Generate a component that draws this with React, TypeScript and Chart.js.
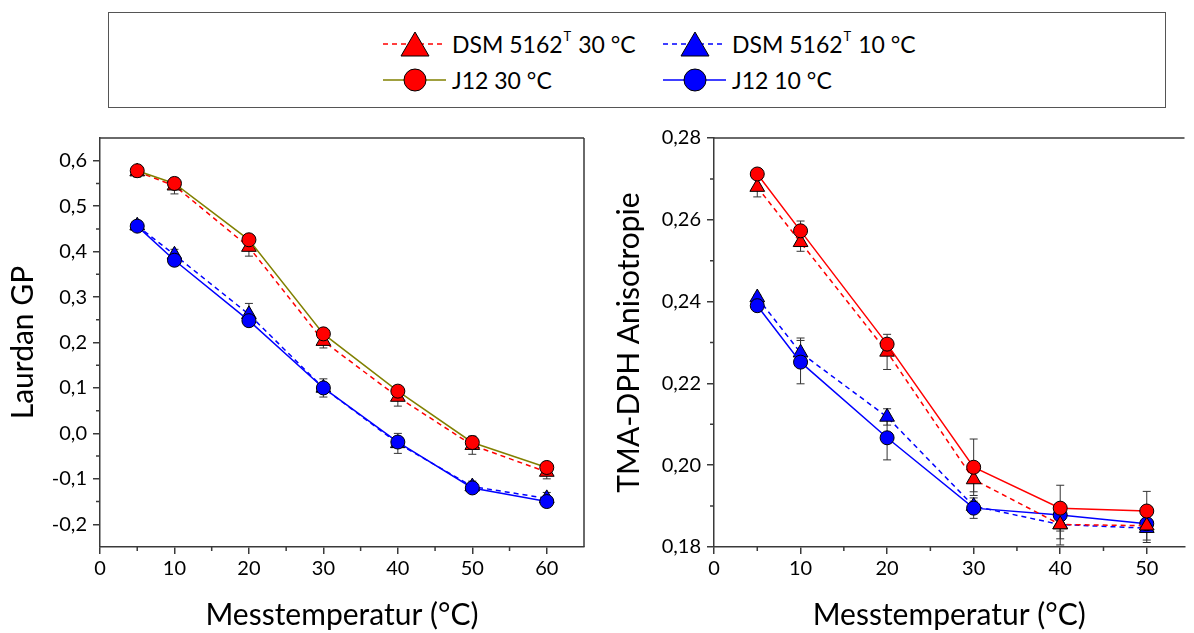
import React, { useEffect, useRef } from "react";
import { Chart, registerables } from "chart.js";
Chart.register(...registerables);

// ---------- data ----------
const gpTemps = [5, 10, 20, 30, 40, 50, 60];
const gpDsm30 = [0.576, 0.545, 0.41, 0.203, 0.08, -0.026, -0.085];
const gpJ12_30 = [0.578, 0.55, 0.426, 0.219, 0.093, -0.02, -0.075];
const gpDsm10 = [0.457, 0.393, 0.262, 0.1, -0.022, -0.117, -0.143];
const gpJ12_10 = [0.456, 0.381, 0.248, 0.1, -0.019, -0.12, -0.15];
const gpErrDsm30 = [0.012, 0.018, 0.02, 0.015, 0.02, 0.02, 0.015];
const gpErrJ12_30 = [0.008, 0.008, 0.01, 0.008, 0.012, 0.012, 0.01];
const gpErrDsm10 = [0.01, 0.012, 0.024, 0.02, 0.022, 0.012, 0.013];
const gpErrJ12_10 = [0.008, 0.008, 0.01, 0.008, 0.01, 0.008, 0.008];

const anTemps = [5, 10, 20, 30, 40, 50];
const anDsm30 = [0.268, 0.2545, 0.2277, 0.1965, 0.1855, 0.1852];
const anJ12_30 = [0.2712, 0.2573, 0.2296, 0.1995, 0.1895, 0.1888];
const anDsm10 = [0.241, 0.2275, 0.2118, 0.19, 0.1855, 0.1846];
const anJ12_10 = [0.239, 0.2252, 0.2067, 0.1895, 0.1878, 0.1857];
const anErrDsm30 = [0.0024, 0.0022, 0.0043, 0.003, 0.0035, 0.0035];
const anErrJ12_30 = [0.0006, 0.0024, 0.001, 0.0069, 0.0056, 0.0048];
const anErrDsm10 = [0.0006, 0.0036, 0.002, 0.0012, 0.005, 0.0035];
const anErrJ12_10 = [0.0005, 0.0053, 0.0054, 0.0025, 0.001, 0.001];

const gpXTicks = [0, 10, 20, 30, 40, 50, 60];
const gpYTicks = [-0.2, -0.1, 0, 0.1, 0.2, 0.3, 0.4, 0.5, 0.6];
const gpXMinor = [5, 15, 25, 35, 45, 55];
const gpYMinor = [-0.15, -0.05, 0.05, 0.15, 0.25, 0.35, 0.45, 0.55];
const anXTicks = [0, 10, 20, 30, 40, 50];
const anYTicks = [0.18, 0.2, 0.22, 0.24, 0.26, 0.28];
const anXMinor = [5, 15, 25, 35, 45];
const anYMinor = [0.19, 0.21, 0.23, 0.25, 0.27];

const labelDsm = "DSM 5162";
const labelJ12_30 = "J12 30 °C";
const labelJ12_10 = "J12 10 °C";
const xTitle = "Messtemperatur (°C)";
const gpTitle = "Laurdan GP";
const anTitle = "TMA-DPH Anisotropie";

// ---------- styling ----------
const RED = "#ff0000";
const BLUE = "#0000ff";
const OLIVE = "#808000";
const AXIS = "#3a3a3a";
const FONT = "Lato, 'Noto Sans', sans-serif";
const DASH = [5, 4];

const pts = (xs: number[], ys: number[]) => xs.map((x, i) => ({ x, y: ys[i] }));

function series(xs: number[], ys: number[], errs: number[], color: string, lineColor: string, tri: boolean, order: number) {
  return {
    data: pts(xs, ys),
    errors: errs,
    borderColor: lineColor,
    borderWidth: 1.5,
    borderDash: tri ? DASH : [],
    pointStyle: tri ? "triangle" : "circle",
    pointRadius: tri ? 8.5 : 7,
    pointBackgroundColor: color,
    pointBorderColor: "#000",
    pointBorderWidth: 1,
    tension: 0,
    order,
  };
}

const framePlugin = {
  id: "frame",
  beforeDatasetsDraw(chart: any) {
    const { ctx, scales } = chart;
    const y = scales.y;
    ctx.save();
    ctx.strokeStyle = "#333";
    ctx.lineWidth = 1;
    chart.data.datasets.forEach((ds: any, di: number) => {
      if (!ds.errors) return;
      const meta = chart.getDatasetMeta(di);
      meta.data.forEach((p: any, i: number) => {
        const v = ds.data[i].y;
        const e = ds.errors[i];
        const y1 = y.getPixelForValue(v + e);
        const y2 = y.getPixelForValue(v - e);
        ctx.beginPath();
        ctx.moveTo(p.x, y1);
        ctx.lineTo(p.x, y2);
        ctx.moveTo(p.x - 4, y1);
        ctx.lineTo(p.x + 4, y1);
        ctx.moveTo(p.x - 4, y2);
        ctx.lineTo(p.x + 4, y2);
        ctx.stroke();
      });
    });
    ctx.restore();
  },
  afterDraw(chart: any) {
    const o = chart.options.plugins.frame || {};
    const { ctx, chartArea: a, scales } = chart;
    ctx.save();
    ctx.strokeStyle = AXIS;
    ctx.lineWidth = 1.5;
    ctx.beginPath();
    ctx.moveTo(a.left, a.top);
    ctx.lineTo(a.right, a.top);
    if (o.right) {
      ctx.moveTo(a.right, a.top);
      ctx.lineTo(a.right, a.bottom);
    }
    (o.xMinor || []).forEach((v: number) => {
      const px = scales.x.getPixelForValue(v);
      ctx.moveTo(px, a.bottom);
      ctx.lineTo(px, a.bottom + 4);
    });
    (o.yMinor || []).forEach((v: number) => {
      const py = scales.y.getPixelForValue(v);
      ctx.moveTo(a.left - 4, py);
      ctx.lineTo(a.left, py);
    });
    ctx.stroke();
    ctx.restore();
  },
};

function makeConfig(opts: any) {
  const tickFont = { family: FONT, size: 20 };
  const titleFont = { family: FONT, size: 30 };
  return {
    type: "line",
    data: { datasets: opts.datasets },
    plugins: [framePlugin],
    options: {
      animation: false,
      responsive: false,
      maintainAspectRatio: false,
      layout: { padding: { left: 0, top: 16, right: opts.padRight, bottom: 0 } },
      plugins: {
        legend: { display: false },
        tooltip: { enabled: false },
        frame: { right: opts.right, xMinor: opts.xMinor, yMinor: opts.yMinor },
      },
      scales: {
        x: {
          type: "linear",
          min: 0,
          max: opts.xMax,
          afterBuildTicks: (s: any) => {
            s.ticks = opts.xTicks.map((v: number) => ({ value: v }));
          },
          afterFit: (s: any) => {
            s.height = 86;
          },
          ticks: { color: "#000", font: tickFont, padding: 3, maxRotation: 0, autoSkip: false },
          grid: { drawOnChartArea: false, drawTicks: true, tickLength: 7, color: AXIS, lineWidth: 1.5 },
          border: { display: true, color: AXIS, width: 1.5 },
          title: { display: true, text: xTitle, color: "#000", font: titleFont, padding: { top: 0, bottom: 0 } },
        },
        y: {
          type: "linear",
          min: opts.yMin,
          max: opts.yMax,
          afterBuildTicks: (s: any) => {
            s.ticks = opts.yTicks.map((v: number) => ({ value: v }));
          },
          afterFit: (s: any) => {
            s.width = opts.yAxisWidth;
          },
          ticks: {
            color: "#000",
            font: tickFont,
            padding: 6,
            autoSkip: false,
            callback: (v: number) => Number(v).toFixed(opts.yDec).replace(".", ","),
          },
          grid: { drawOnChartArea: false, drawTicks: true, tickLength: 7, color: AXIS, lineWidth: 1.5 },
          border: { display: true, color: AXIS, width: 1.5 },
          title: { display: true, text: opts.yTitle, color: "#000", font: titleFont, padding: { top: opts.yTitlePad, bottom: 0 } },
        },
      },
    },
  };
}

function ChartBox({ config, left, top, width, height }: any) {
  const ref = useRef<HTMLCanvasElement>(null);
  useEffect(() => {
    const chart = new Chart(ref.current as HTMLCanvasElement, config as any);
    return () => chart.destroy();
  }, []);
  return (
    <div style={{ position: "absolute", left, top, width, height }}>
      <canvas ref={ref} width={width} height={height} style={{ width, height, display: "block" }} />
    </div>
  );
}

function LegendMarker({ color, lineColor, tri }: { color: string; lineColor: string; tri: boolean }) {
  return (
    <svg width={64} height={30} style={{ position: "absolute", left: 0, top: 0 }}>
      <line x1={0} y1={15} x2={63} y2={15} stroke={lineColor} strokeWidth={1.5} strokeDasharray={tri ? "5 4" : undefined} />
      {tri ? (
        <polygon points="32,3 18,27 46,27" fill={color} stroke="#000" strokeWidth={1} />
      ) : (
        <circle cx={32} cy={15} r={11} fill={color} stroke="#000" strokeWidth={1} />
      )}
    </svg>
  );
}

function LegendItem({ x, y, color, lineColor, tri, children }: any) {
  return (
    <div style={{ position: "absolute", left: x, top: y - 15, height: 30, width: 300 }}>
      <LegendMarker color={color} lineColor={lineColor} tri={tri} />
      <div
        style={{
          position: "absolute",
          left: 69,
          top: 0,
          height: 30,
          lineHeight: "30px",
          fontFamily: FONT,
          fontSize: 23,
          color: "#000",
          whiteSpace: "nowrap",
        }}
      >
        {children}
      </div>
    </div>
  );
}

function Sup() {
  return <span style={{ fontSize: 13, position: "relative", top: -12, marginLeft: 1, marginRight: 1 }}>T</span>;
}

export default function App() {
  const leftConfig = makeConfig({
    datasets: [
      series(gpTemps, gpDsm30, gpErrDsm30, RED, RED, true, 2),
      series(gpTemps, gpJ12_30, gpErrJ12_30, RED, OLIVE, false, 1),
      series(gpTemps, gpDsm10, gpErrDsm10, BLUE, BLUE, true, 4),
      series(gpTemps, gpJ12_10, gpErrJ12_10, BLUE, BLUE, false, 3),
    ],
    xMax: 65,
    yMin: -0.25,
    yMax: 0.65,
    xTicks: gpXTicks,
    yTicks: gpYTicks,
    yDec: 1,
    yTitle: gpTitle,
    yAxisWidth: 100,
    yTitlePad: 5,
    padRight: 16,
    right: true,
    xMinor: gpXMinor,
    yMinor: gpYMinor,
  });
  const rightConfig = makeConfig({
    datasets: [
      series(anTemps, anDsm30, anErrDsm30, RED, RED, true, 2),
      series(anTemps, anJ12_30, anErrJ12_30, RED, RED, false, 1),
      series(anTemps, anDsm10, anErrDsm10, BLUE, BLUE, true, 4),
      series(anTemps, anJ12_10, anErrJ12_10, BLUE, BLUE, false, 3),
    ],
    xMax: 54.36,
    yMin: 0.18,
    yMax: 0.28,
    xTicks: anXTicks,
    yTicks: anYTicks,
    yDec: 2,
    yTitle: anTitle,
    yAxisWidth: 114,
    yTitlePad: 11,
    padRight: 0,
    right: false,
    xMinor: anXMinor,
    yMinor: anYMinor,
  });

  return (
    <div style={{ position: "absolute", left: 0, top: 0, width: 1194, height: 633, background: "#fff", overflow: "hidden" }}>
      <div
        style={{
          position: "absolute",
          left: 108,
          top: 12,
          width: 1058,
          height: 96,
          border: "1px solid #555",
          boxSizing: "border-box",
        }}
      >
        <LegendItem x={274} y={31} color={RED} lineColor={RED} tri={true}>
          {labelDsm}
          <Sup /> 30 °C
        </LegendItem>
        <LegendItem x={554} y={31} color={BLUE} lineColor={BLUE} tri={true}>
          {labelDsm}
          <Sup /> 10 °C
        </LegendItem>
        <LegendItem x={274} y={67} color={RED} lineColor={OLIVE} tri={false}>
          {labelJ12_30}
        </LegendItem>
        <LegendItem x={554} y={67} color={BLUE} lineColor={BLUE} tri={false}>
          {labelJ12_10}
        </LegendItem>
      </div>
      <ChartBox config={leftConfig} left={0} top={120} width={600} height={513} />
      <ChartBox config={rightConfig} left={600} top={120} width={594} height={513} />
    </div>
  );
}
